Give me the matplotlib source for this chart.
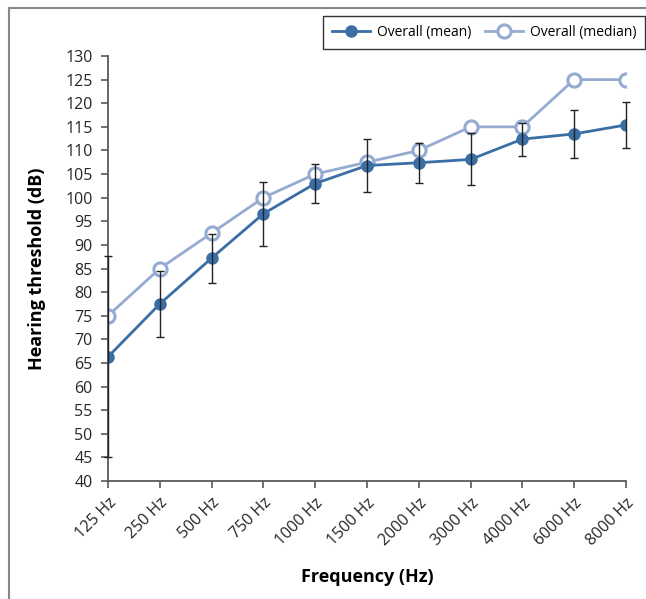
import matplotlib
matplotlib.use("Agg")
import matplotlib.pyplot as plt
from matplotlib.lines import Line2D

plt.rcParams['font.family'] = ['Open Sans', 'DejaVu Sans']

# data
freqs = ['125 Hz', '250 Hz', '500 Hz', '750 Hz', '1000 Hz', '1500 Hz',
         '2000 Hz', '3000 Hz', '4000 Hz', '6000 Hz', '8000 Hz']
mean_db = [66.3, 77.5, 87.2, 96.6, 103.0, 106.8, 107.4, 108.1, 112.4, 113.5, 115.4]
mean_err = [21.3, 7.0, 5.2, 6.8, 4.2, 5.6, 4.2, 5.5, 3.5, 5.1, 4.8]
median_db = [75, 85, 92.5, 100, 105, 107.5, 110, 115, 115, 125, 125]
yticks = list(range(40, 131, 5))

dark = '#3A6EA5'
light = '#95ABD1'
grey = '#595959'

fig = plt.figure(figsize=(6.46, 5.99), dpi=100)
ax = fig.add_axes([0.1672, 0.197, 0.8018, 0.7095])

x = list(range(len(freqs)))

ax.plot(x, median_db, color=light, lw=2, marker='o', ms=9.5,
        mfc='white', mec=light, mew=2.2, label='Overall (median)', zorder=2)
ax.plot(x, mean_db, color=dark, lw=2, marker='o', ms=8,
        mfc=dark, mec=dark, label='Overall (mean)', zorder=3)
eb = ax.errorbar(x, mean_db, yerr=mean_err, fmt='none', ecolor='#222222',
                 elinewidth=1, capsize=3, capthick=1, zorder=4)
for art in list(eb.lines[1]) + list(eb.lines[2]):
    art.set_clip_on(False)

ax.set_xlim(0, len(freqs) - 1)
ax.set_ylim(40, 130)
ax.set_yticks(yticks)
ax.set_xticks(x)
ax.set_xticklabels(freqs, rotation=45, ha='right', rotation_mode='anchor')

for side in ['top', 'right']:
    ax.spines[side].set_visible(False)
for side in ['left', 'bottom']:
    ax.spines[side].set_color(grey)
    ax.spines[side].set_linewidth(1.3)
ax.tick_params(axis='both', direction='out', length=5, width=1.2,
               color=grey, labelsize=11.5, labelcolor='#262626')
ax.tick_params(axis='y', pad=6)
ax.tick_params(axis='x', pad=5)

ax.set_ylabel('Hearing threshold (dB)', fontsize=13, fontweight='bold',
              labelpad=14)
ax.set_xlabel('Frequency (Hz)', fontsize=13, fontweight='bold', labelpad=14)

handles, labels = ax.get_legend_handles_labels()
leg = fig.legend(handles[::-1], labels[::-1], loc='upper right',
                 bbox_to_anchor=(0.9985, 0.9733), borderaxespad=0, ncol=2,
                 frameon=True, fancybox=False, fontsize=10, handlelength=2.7,
                 columnspacing=1.0, handletextpad=0.5, borderpad=0.65)
leg.get_frame().set_edgecolor('black')
leg.get_frame().set_linewidth(1.0)

# outer frame (only left and top edges visible)
fig.add_artist(Line2D([0.0135, 0.0135], [0.0, 0.9865], color='#888888', lw=1.5))
fig.add_artist(Line2D([0.0135, 1.0], [0.9865, 0.9865], color='#888888', lw=1.5))

plt.savefig('out.png', dpi=100)
